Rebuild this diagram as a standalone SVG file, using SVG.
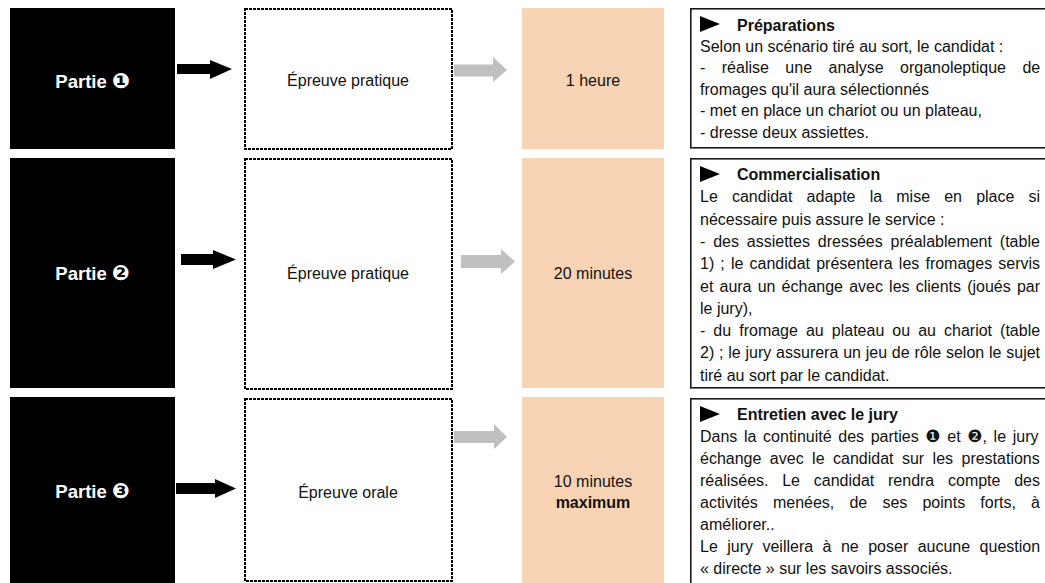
<svg xmlns="http://www.w3.org/2000/svg" width="1045" height="583" viewBox="0 0 1045 583">
<style>
.part{fill:#000}
.ptxt{font-family:"Liberation Sans","DejaVu Sans",sans-serif;font-weight:bold;font-size:18.5px;fill:#fff;text-anchor:middle}
.num{font-family:"DejaVu Sans",sans-serif;font-size:21px}
.dash{fill:#fff;stroke:#000;stroke-width:2;stroke-dasharray:3 1}
.peach{fill:#f9d4b4}
.ctr{font-family:"Liberation Sans","DejaVu Sans",sans-serif;font-size:16px;fill:#111;text-anchor:middle}
.box{fill:#fff;stroke:#1a1a1a;stroke-width:1.6}
.t{font-family:"Liberation Sans","DejaVu Sans",sans-serif;font-size:16px;fill:#111}
.h{font-weight:bold}
.n2{font-family:"DejaVu Sans",sans-serif;font-size:17px}
.blk{fill:#000}
.gry{fill:#c0c0c0}
</style>

<g id="row1">
  <g id="partie1"><rect class="part" x="10" y="8" width="165" height="141"/><text class="ptxt" x="92.5" y="88">Partie <tspan class="num">❶</tspan></text></g>
  <g id="epreuve1"><rect class="dash" x="245" y="9" width="207" height="140"/><text class="ctr" x="348" y="86">Épreuve pratique</text></g>
  <g id="duree1"><rect class="peach" x="522" y="8" width="142" height="141"/><text class="ctr" x="593" y="86">1 heure</text></g>
  <g id="desc1">
    <rect class="box" x="690.8" y="8.8" width="370" height="139"/>
    <polygon class="blk" points="700,16 720,24 700,32"/>
    <text class="t h" x="737" y="30.5">Préparations</text>
    <text class="t" x="700" y="51.9">Selon un scénario tiré au sort, le candidat :</text>
    <text class="t" x="700" y="73.3" style="word-spacing:12px">- réalise une analyse organoleptique de</text>
    <text class="t" x="700" y="94.7">fromages qu'il aura sélectionnés</text>
    <text class="t" x="700" y="116.1">- met en place un chariot ou un plateau,</text>
    <text class="t" x="700" y="137.5">- dresse deux assiettes.</text>
  </g>
</g>

<g id="row2">
  <g id="partie2"><rect class="part" x="10" y="158" width="165" height="230"/><text class="ptxt" x="92.5" y="280">Partie <tspan class="num">❷</tspan></text></g>
  <g id="epreuve2"><rect class="dash" x="245" y="159" width="207" height="230"/><text class="ctr" x="348" y="279">Épreuve pratique</text></g>
  <g id="duree2"><rect class="peach" x="522" y="158" width="142" height="230"/><text class="ctr" x="593" y="279">20 minutes</text></g>
  <g id="desc2">
    <rect class="box" x="690.8" y="158.8" width="370" height="229"/>
    <polygon class="blk" points="700,166 720,174 700,182"/>
    <text class="t h" x="737" y="180">Commercialisation</text>
    <text class="t" x="700" y="202.3" style="word-spacing:9.7px">Le candidat adapte la mise en place si</text>
    <text class="t" x="700" y="224.6">nécessaire puis assure le service :</text>
    <text class="t" x="700" y="246.9" style="word-spacing:3.4px">- des assiettes dressées préalablement (table</text>
    <text class="t" x="700" y="269.2" style="word-spacing:1.7px">1) ; le candidat présentera les fromages servis</text>
    <text class="t" x="700" y="291.5" style="word-spacing:1.7px">et aura un échange avec les clients (joués par</text>
    <text class="t" x="700" y="313.8">le jury),</text>
    <text class="t" x="700" y="336.1" style="word-spacing:3.6px">- du fromage au plateau ou au chariot (table</text>
    <text class="t" x="700" y="358.4" style="word-spacing:0.35px">2) ; le jury assurera un jeu de rôle selon le sujet</text>
    <text class="t" x="700" y="380.7">tiré au sort par le candidat.</text>
  </g>
</g>

<g id="row3">
  <g id="partie3"><rect class="part" x="10" y="397" width="165" height="190"/><text class="ptxt" x="92.5" y="498">Partie <tspan class="num">❸</tspan></text></g>
  <g id="epreuve3"><rect class="dash" x="245" y="399" width="207" height="182"/><text class="ctr" x="348" y="498">Épreuve orale</text></g>
  <g id="duree3"><rect class="peach" x="522" y="397" width="142" height="190"/><text class="ctr" x="593" y="487">10 minutes</text><text class="ctr h" x="593" y="508">maximum</text></g>
  <g id="desc3">
    <rect class="box" x="690.8" y="398.8" width="370" height="200"/>
    <polygon class="blk" points="700,406 720,414 700,422"/>
    <text class="t h" x="737" y="420">Entretien avec le jury</text>
    <text class="t" x="700" y="442" style="word-spacing:2.2px">Dans la continuité des parties <tspan class="n2">❶</tspan> et <tspan class="n2">❷</tspan>, le jury</text>
    <text class="t" x="700" y="464" style="word-spacing:4px">échange avec le candidat sur les prestations</text>
    <text class="t" x="700" y="486" style="word-spacing:9.3px">réalisées. Le candidat rendra compte des</text>
    <text class="t" x="700" y="508" style="word-spacing:10.7px">activités menées, de ses points forts, à</text>
    <text class="t" x="700" y="530">améliorer..</text>
    <text class="t" x="700" y="552" style="word-spacing:5px">Le jury veillera à ne poser aucune question</text>
    <text class="t" x="700" y="574">« directe » sur les savoirs associés.</text>
  </g>
</g>

<g id="connectors">
  <polygon class="blk" points="177,64 210,64 210,60 232,69 210,79 210,74 177,74"/>
  <polygon class="blk" points="181,254 213,254 213,250 236,259.5 213,269 213,265 181,265"/>
  <polygon class="blk" points="176,483 215,483 215,479 236,488.5 215,498 215,494 176,494"/>
  <polygon class="gry" points="454,64.5 493,64.5 493,57 507,70 493,82 493,76.5 454,76.5"/>
  <polygon class="gry" points="461,255 501,255 501,249 515,261.5 501,274 501,268 461,268"/>
  <polygon class="gry" points="454,431 494,431 494,424 507,437 494,449 494,443 454,443"/>
</g>
</svg>
